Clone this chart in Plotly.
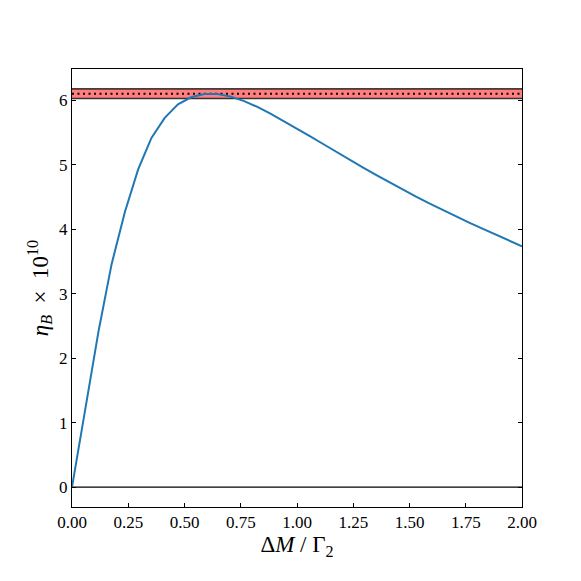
import plotly.graph_objects as go

# Data
delta_m = [0.000, 0.059, 0.118, 0.176, 0.235, 0.294, 0.353, 0.412, 0.471, 0.529,
           0.588, 0.647, 0.706, 0.765, 0.824, 0.882, 0.941, 1.000, 1.059, 1.118,
           1.176, 1.235, 1.294, 1.353, 1.412, 1.471, 1.529, 1.588, 1.647, 1.706,
           1.765, 1.824, 1.882, 1.941, 2.000]
eta_b = [0.00, 1.24, 2.42, 3.46, 4.27, 4.93, 5.42, 5.73, 5.94, 6.05,
         6.10, 6.10, 6.06, 5.99, 5.90, 5.795, 5.682, 5.564, 5.443, 5.321,
         5.199, 5.078, 4.959, 4.842, 4.728, 4.617, 4.509, 4.404, 4.302, 4.203,
         4.106, 4.011, 3.918, 3.827, 3.738]

obs_center = 6.105
obs_low = 6.03
obs_high = 6.18
x_span = [0.0, 2.0]

x_ticks = [0.0, 0.25, 0.5, 0.75, 1.0, 1.25, 1.5, 1.75, 2.0]
x_tick_labels = ["0.00", "0.25", "0.50", "0.75", "1.00", "1.25", "1.50", "1.75", "2.00"]
y_ticks = [0, 1, 2, 3, 4, 5, 6]
y_tick_labels = ["0", "1", "2", "3", "4", "5", "6"]

FONT = "Liberation Serif"

fig = go.Figure()

# observed band
fig.add_trace(go.Scatter(x=x_span, y=[obs_low, obs_low], mode="lines",
                         line=dict(color="#333333", width=1.5), showlegend=False, hoverinfo="skip"))
fig.add_trace(go.Scatter(x=x_span, y=[obs_high, obs_high], mode="lines",
                         line=dict(color="black", width=1.2), fill="tonexty",
                         fillcolor="rgba(255,0,0,0.5)", showlegend=False, hoverinfo="skip"))
fig.add_trace(go.Scatter(x=x_span, y=[obs_center, obs_center], mode="lines",
                         line=dict(color="black", width=2, dash="2px,3.5px"),
                         showlegend=False, hoverinfo="skip"))
# zero line
fig.add_trace(go.Scatter(x=x_span, y=[0, 0], mode="lines",
                         line=dict(color="black", width=1.2), showlegend=False, hoverinfo="skip"))
# curve
fig.add_trace(go.Scatter(x=delta_m, y=eta_b, mode="lines",
                         line=dict(color="#1f77b4", width=2), showlegend=False))

fig.update_layout(
    width=581, height=581,
    margin=dict(l=64, r=67, t=61, b=82),
    paper_bgcolor="white", plot_bgcolor="white",
    font=dict(family=FONT, size=17, color="black"),
    xaxis=dict(range=[0, 2], tickvals=x_ticks, ticktext=x_tick_labels,
               ticks="inside", ticklen=4, tickcolor="black", tickwidth=1,
               showline=True, linecolor="black", linewidth=1, mirror=True,
               showgrid=False, zeroline=False,
               title=dict(text="Δ<i>M</i> / Γ<sub>2</sub>", font=dict(size=23), standoff=0)),
    yaxis=dict(range=[-0.309, 6.489], tickvals=y_ticks, ticktext=y_tick_labels,
               ticks="inside", ticklen=4, tickcolor="black", tickwidth=1,
               showline=True, linecolor="black", linewidth=1, mirror="ticks",
               showgrid=False, zeroline=False,
               title=dict(text="<i>η<sub>B</sub></i>  ×  10<sup>10</sup>", font=dict(size=23), standoff=4)),
)

fig.write_html("out.html")
